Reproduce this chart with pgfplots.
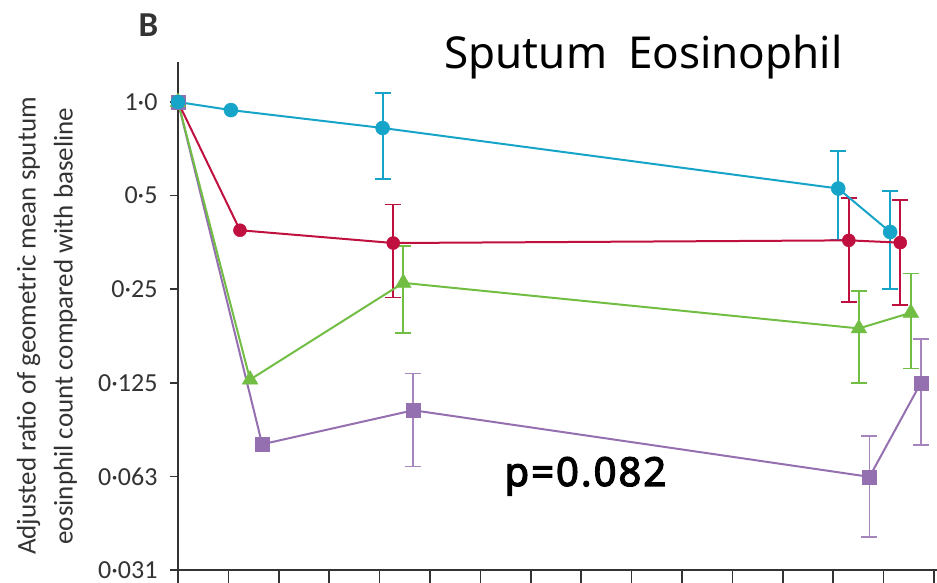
\documentclass[border=0pt]{standalone}
\usepackage{pgfplots}
\pgfplotsset{compat=1.18}
\usepackage{fontspec}
\setmainfont{Carlito}
\newfontfamily\titlefont{Noto Sans}
\newfontfamily\pfont{Noto Sans}[FakeBold=3, LetterSpace=5]
\definecolor{cy}{HTML}{16A4C8}
\definecolor{rd}{HTML}{C0103F}
\definecolor{gr}{HTML}{72BE45}
\definecolor{pu}{HTML}{9570B0}
\definecolor{txt}{HTML}{333333}
\pgfplotsset{
  ebar/.style={only marks, mark=none, forget plot, color=#1, line width=1.8pt,
    error bars/.cd, y dir=both, y explicit,
    error bar style={line width=1.8pt, color=#1, solid},
    error mark options={rotate=90, mark size=8pt, line width=1.8pt, color=#1}},
}
\begin{document}
\begin{tikzpicture}[x=1pt,y=1pt]
\useasboundingbox (0,0) rectangle (937,583);
\clip (0,0) rectangle (937,583);
\begin{axis}[
  at={(178pt,13pt)}, anchor=south west,
  scale only axis, width=781.2pt, height=508pt,
  xmin=0, xmax=15.5,
  ymode=log, log basis y=2,
  ymin=0.03125, ymax=1.345,
  axis x line*=bottom, axis y line*=left,
  axis line style={line width=1.5pt, color=txt, -},
  xtick={0,...,15}, xticklabels={},
  ytick={0.03125,0.0625,0.125,0.25,0.5,1},
  yticklabels={0·031,0·063,0·125,0·25,0·5,1·0},
  yticklabel style={font=\fontsize{26}{30}\selectfont, color=txt, xshift=-9pt},
  tick align=outside,
  major tick length=8pt,
  tick style={line width=1.5pt, color=txt},
  xtick style={/pgfplots/major tick length=20pt},
  clip=false,
]
% error bars
\addplot[ebar=pu!85] coordinates {
  (4.67,0.102) += (0,0.032) -= (0,0.0347)
  (13.72,0.0623) += (0,0.022) -= (0,0.0224)
  (14.74,0.125) += (0,0.048) -= (0,0.046)
  };
\addplot[ebar=gr] coordinates {
  (4.47,0.262) += (0,0.082) -= (0,0.081)
  (13.51,0.187) += (0,0.060) -= (0,0.062)
  (14.54,0.210) += (0,0.071) -= (0,0.071)
  };
\addplot[ebar=rd] coordinates {
  (4.27,0.352) += (0,0.116) -= (0,0.117)
  (13.31,0.359) += (0,0.131) -= (0,0.131)
  (14.33,0.353) += (0,0.131) -= (0,0.131)
  };
\addplot[ebar=cy] coordinates {
  (4.06,0.825) += (0,0.245) -= (0,0.259)
  (13.10,0.527) += (0,0.170) -= (0,0.168)
  (14.13,0.382) += (0,0.136) -= (0,0.131)
  };
% lines + markers
\addplot[color=pu, line width=2pt, mark=square*, mark size=7pt, mark options={solid, fill=pu, line width=0.5pt}]
  coordinates {(0,1.0) (1.67,0.0793) (4.67,0.102) (13.72,0.0623) (14.74,0.125)};
\addplot[color=gr, line width=2pt, mark=triangle*, mark size=9pt, mark options={solid, fill=gr, line width=0.5pt}]
  coordinates {(0,1.0) (1.43,0.128) (4.47,0.262) (13.51,0.187) (14.54,0.210)};
\addplot[color=rd, line width=2pt, mark=*, mark size=6.5pt, mark options={solid, fill=rd, line width=0.5pt}]
  coordinates {(0,1.0) (1.23,0.387) (4.27,0.352) (13.31,0.359) (14.33,0.353)};
\addplot[color=cy, line width=2pt, mark=*, mark size=7pt, mark options={solid, fill=cy, line width=0.5pt}]
  coordinates {(0,1.0) (1.05,0.942) (4.06,0.825) (13.10,0.527) (14.13,0.382)};
\end{axis}
\node[rotate=90, align=center, color=txt, font=\fontsize{27}{37}\selectfont] at (47,257)
  {Adjusted ratio of geometric mean sputum\\eosinphil count compared with baseline};
\node[anchor=base west, font=\titlefont\fontsize{44}{50}\selectfont] at (441,514) {Sputum\hspace{21pt}Eosinophil};
\node[anchor=base west, font=\pfont\fontsize{40}{46}\selectfont] at (501,97) {p=0.082};
\node[anchor=base west, color=txt, font=\bfseries\fontsize{35}{40}\selectfont] at (135,546) {B};
\end{tikzpicture}
\end{document}
